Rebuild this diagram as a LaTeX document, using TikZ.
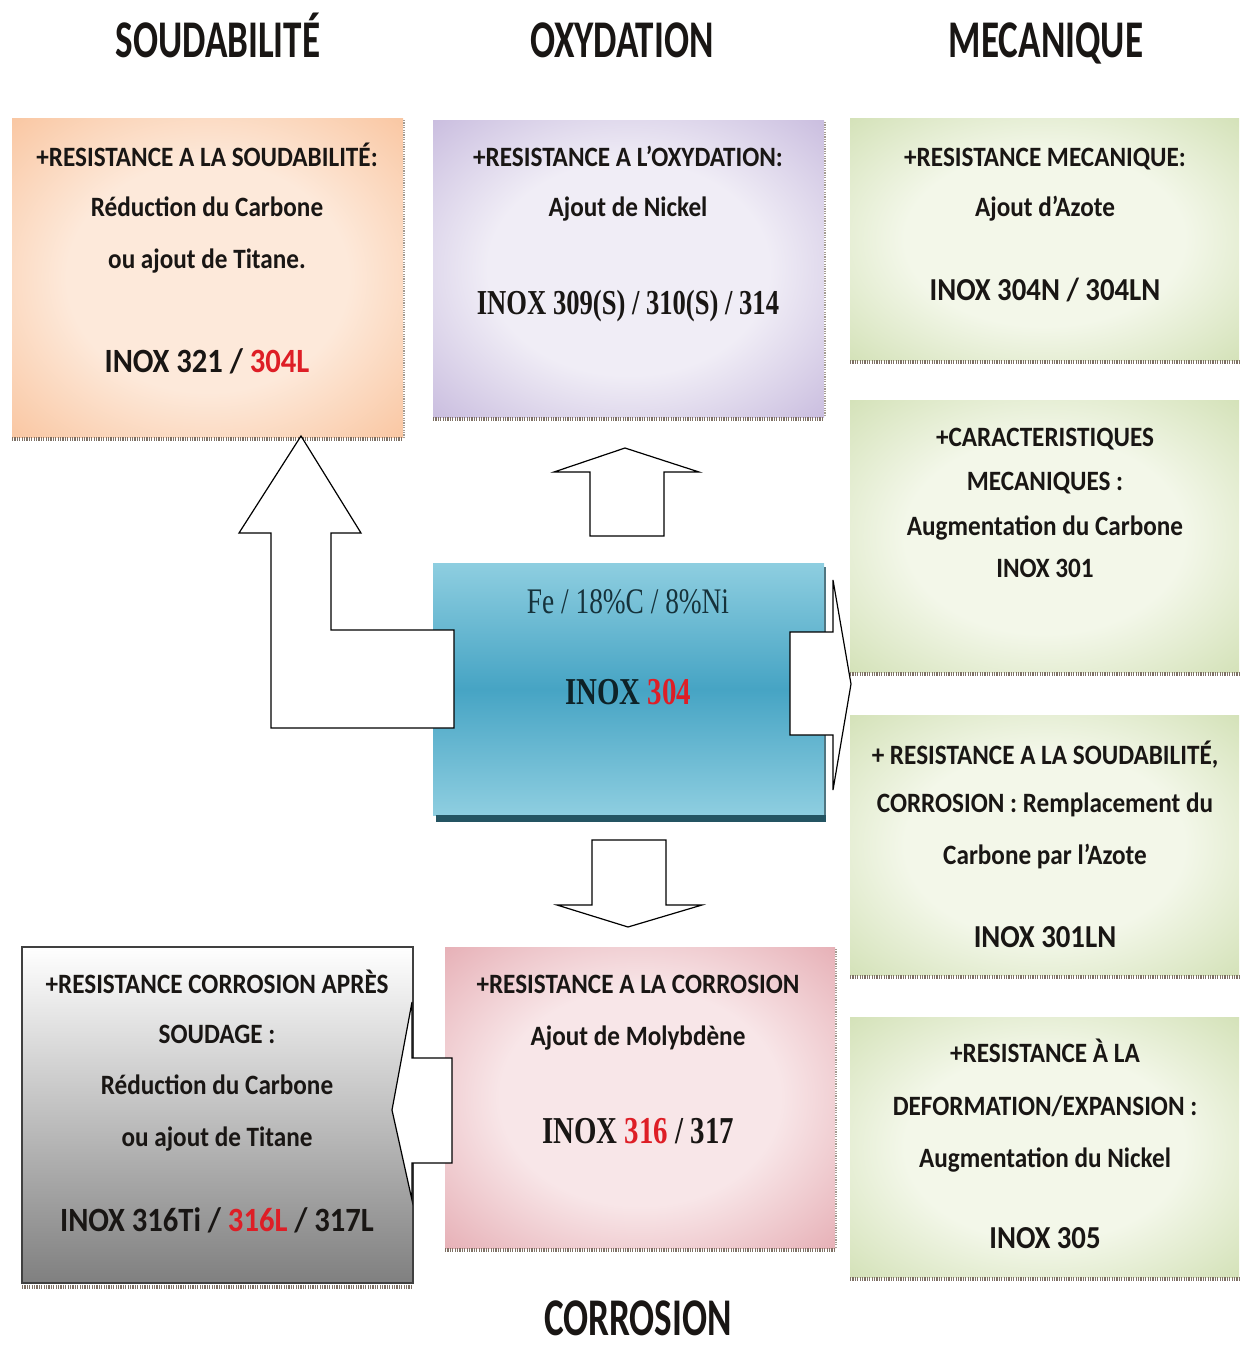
\documentclass[tikz,border=0pt]{standalone}
\usepackage{fontspec}
\setmainfont[FakeStretch=0.9]{Carlito}
\newfontfamily\headfont[FakeStretch=0.7]{Carlito}
\newfontfamily\romfont[FakeStretch=0.76]{Liberation Serif}
\usepackage{xcolor}
\definecolor{redx}{RGB}{222,30,38}
\definecolor{txt}{RGB}{25,22,20}
\definecolor{orin}{RGB}{253,233,218}
\definecolor{orout}{RGB}{246,170,116}
\definecolor{puin}{RGB}{240,237,246}
\definecolor{puout}{RGB}{170,150,204}
\definecolor{grin}{RGB}{243,247,233}
\definecolor{grout}{RGB}{186,208,144}
\definecolor{pkin}{RGB}{248,230,232}
\definecolor{pkout}{RGB}{216,132,142}
\definecolor{blt}{RGB}{142,206,224}
\definecolor{blm}{RGB}{70,164,196}
\definecolor{bld}{RGB}{36,84,98}
\definecolor{shd}{RGB}{125,112,100}
\pgfdeclareradialshading{orsh}{\pgfpoint{0bp}{0bp}}{color(0bp)=(orin);color(18bp)=(orin);color(50bp)=(orout)}
\pgfdeclareradialshading{push}{\pgfpoint{0bp}{0bp}}{color(0bp)=(puin);color(18bp)=(puin);color(50bp)=(puout)}
\pgfdeclareradialshading{grsh}{\pgfpoint{0bp}{0bp}}{color(0bp)=(grin);color(18bp)=(grin);color(50bp)=(grout)}
\pgfdeclareradialshading{pksh}{\pgfpoint{0bp}{0bp}}{color(0bp)=(pkin);color(18bp)=(pkin);color(50bp)=(pkout)}

\begin{document}
\begin{tikzpicture}[x=0.5pt,y=-0.5pt,
  hd/.style={font=\headfont\bfseries\fontsize{26.5}{30}\selectfont,text=txt,anchor=base,inner sep=0},
  ln/.style={font=\bfseries\fontsize{14}{16}\selectfont,text=txt,anchor=base,inner sep=0},
  big/.style={ln,font=\bfseries\fontsize{17}{19}\selectfont},
  rom/.style={font=\romfont\bfseries\fontsize{19}{21}\selectfont,text=txt,anchor=base,inner sep=0},
  blk/.style={draw=black,fill=white,line width=0.6pt},
  shb/.style={draw=shd,line width=1.6pt,dash pattern=on 0.6pt off 0.6pt},
  shr/.style={draw=shd!70,line width=0.8pt,dash pattern=on 0.6pt off 0.6pt}]
\useasboundingbox (0,0) rectangle (1239,1349);

\node[hd] (hsoud) at (218,57) {SOUDABILITÉ};
\node[hd] (hoxy) at (622,57) {OXYDATION};
\node[hd] (hmeca) at (1046,57) {MECANIQUE};
\node[hd] (hcorr) at (638,1335) {CORROSION};

% soudabilite
\shade[shading=orsh] (12,118) rectangle (403,437);
\draw[shb] (12,439)--(403,439);
\draw[shr] (404,120)--(404,437);
\node[ln] (s1) at (207,166) {+RESISTANCE A LA SOUDABILITÉ:};
\node[ln] (s2) at (207,216) {Réduction du Carbone};
\node[ln] (s3) at (207,268) {ou ajout de Titane.};
\node[big] (s4) at (207,372) {INOX 321 / \textcolor{redx}{304L}};

% oxydation
\shade[shading=push] (433,120) rectangle (824,417);
\draw[shb] (433,419)--(824,419);
\draw[shr] (825,122)--(825,417);
\node[ln] (x1) at (628,166) {+RESISTANCE A L’OXYDATION:};
\node[ln] (x2) at (628,216) {Ajout de Nickel};
\node[rom,font=\romfont\bfseries\fontsize{17.5}{20}\selectfont] (x3) at (628,314) {INOX 309(S) / 310(S) / 314};

% mecanique
\shade[shading=grsh] (850,118) rectangle (1239,360);
\draw[shb] (850,362)--(1239,362);
\node[ln] (m1) at (1045,166) {+RESISTANCE MECANIQUE:};
\node[ln] (m2) at (1045,216) {Ajout d’Azote};
\node[big,font=\bfseries\fontsize{16}{18}\selectfont] (m3) at (1045,300) {INOX 304N / 304LN};

\shade[shading=grsh] (850,400) rectangle (1239,672);
\draw[shb] (850,674)--(1239,674);
\node[ln] (c1) at (1045,446) {+CARACTERISTIQUES};
\node[ln] (c2) at (1045,490) {MECANIQUES :};
\node[ln] (c3) at (1045,535) {Augmentation du Carbone};
\node[ln] (c4) at (1045,577) {INOX 301};

\shade[shading=grsh] (850,715) rectangle (1239,975);
\draw[shb] (850,977)--(1239,977);
\node[ln] (n1) at (1045,764) {+ RESISTANCE A LA SOUDABILITÉ,};
\node[ln] (n2) at (1045,812) {CORROSION : Remplacement du};
\node[ln] (n3) at (1045,864) {Carbone par l’Azote};
\node[big,font=\bfseries\fontsize{16}{18}\selectfont] (n4) at (1045,947) {INOX 301LN};

\shade[shading=grsh] (850,1017) rectangle (1239,1277);
\draw[shb] (850,1279)--(1239,1279);
\node[ln] (d1) at (1045,1062) {+RESISTANCE À LA};
\node[ln] (d2) at (1045,1115) {DEFORMATION/EXPANSION :};
\node[ln] (d3) at (1045,1167) {Augmentation du Nickel};
\node[big,font=\bfseries\fontsize{16}{18}\selectfont] (d4) at (1045,1248) {INOX 305};

% inox 304
\shade[top color=blt,bottom color=blt,middle color=blm] (433,563) rectangle (824,815);
\fill[bld] (436,815) rectangle (826,822);
\draw[bld!80,line width=1pt] (825,567)--(825,815);
\node[rom,font=\romfont\fontsize{18}{20}\selectfont,text=bld!60!black] (fe) at (628,613) {Fe / 18\%C / 8\%Ni};
\node[rom,text=bld!40!black] (i304) at (628,704) {INOX \textcolor{redx}{304}};

% corrosion
\shade[top color=white,bottom color=black!50] (22,947) rectangle (413,1283);
\draw[black!75,line width=0.6pt] (22,947) rectangle (413,1283);
\draw[shb] (22,1287)--(413,1287);
\node[ln] (a1) at (217,993) {+RESISTANCE CORROSION APRÈS};
\node[ln] (a2) at (217,1043) {SOUDAGE :};
\node[ln] (a3) at (217,1094) {Réduction du Carbone};
\node[ln] (a4) at (217,1146) {ou ajout de Titane};
\node[big] (a5) at (217,1231) {INOX 316Ti / \textcolor{redx}{316L} / 317L};

\shade[shading=pksh] (445,947) rectangle (835,1248);
\draw[shb] (445,1250)--(835,1250);
\draw[shr] (836,949)--(836,1248);
\node[ln] (k1) at (638,993) {+RESISTANCE A LA CORROSION};
\node[ln] (k2) at (638,1045) {Ajout de Molybdène};
\node[rom] (k3) at (638,1143) {INOX \textcolor{redx}{316} / 317};

% fleches
\draw[blk] (454,630)--(331,630)--(331,533)--(361,533)--(301,436)--(239,533)--(271,533)--(271,728)--(454,728)--cycle;
\draw[blk] (590,536)--(590,472)--(554,472)--(625,448)--(699,472)--(664,472)--(664,536)--cycle;
\draw[blk] (790,632)--(833,632)--(833,580)--(851,684)--(833,790)--(833,735)--(790,735)--cycle;
\draw[blk] (592,840)--(666,840)--(666,905)--(702,905)--(628,927)--(557,905)--(592,905)--cycle;
\draw[blk] (452,1058)--(412,1058)--(412,1002)--(392,1110)--(412,1200)--(412,1163)--(452,1163)--cycle;
\end{tikzpicture}
\end{document}
